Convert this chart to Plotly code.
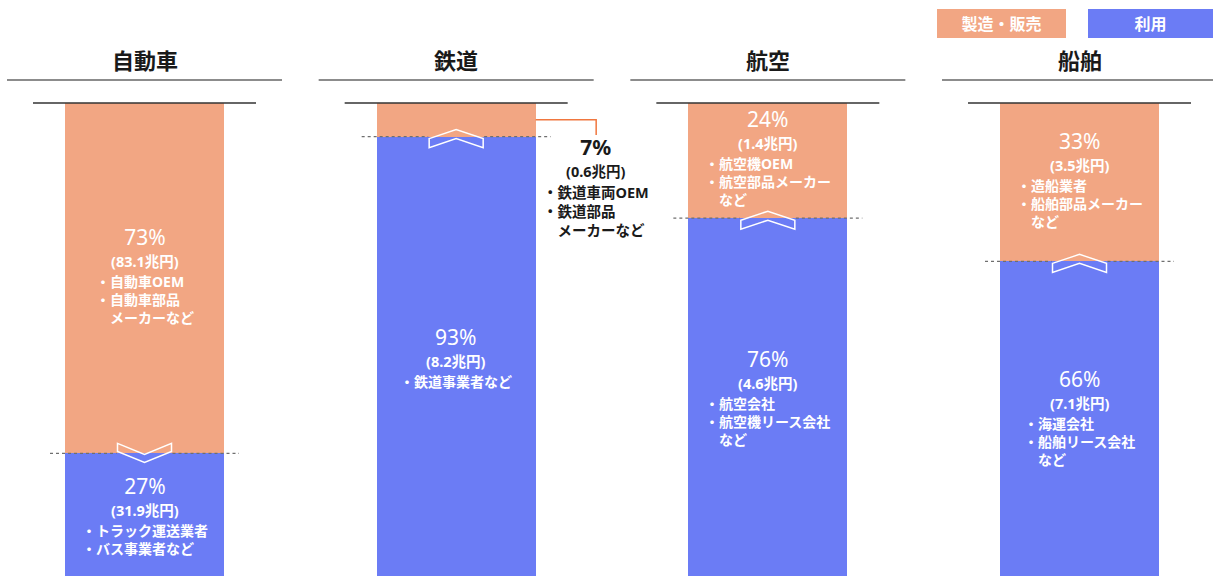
import plotly.graph_objects as go

# ---------------- data ----------------
categories = ["自動車", "鉄道", "航空", "船舶"]
mfg_share = [73, 7, 24, 33]          # 製造・販売 (%)
use_share = [27, 93, 76, 66]         # 利用 (%)
mfg_amount = [83.1, 0.6, 1.4, 3.5]   # 兆円
use_amount = [31.9, 8.2, 4.6, 7.1]   # 兆円
mfg_examples = [
    ["自動車OEM", "自動車部品", "\u3000メーカーなど"],
    ["鉄道車両OEM", "鉄道部品", "\u3000メーカーなど"],
    ["航空機OEM", "航空部品メーカー", "\u3000など"],
    ["造船業者", "船舶部品メーカー", "\u3000など"],
]
use_examples = [
    ["トラック運送業者", "バス事業者など"],
    ["鉄道事業者など"],
    ["航空会社", "航空機リース会社", "\u3000など"],
    ["海運会社", "船舶リース会社", "\u3000など"],
]
legend_labels = ["製造・販売", "利用"]
arrow_dir = ["down", "up", "up", "up"]

# ---------------- style ----------------
W, H = 1213, 576
ORANGE = "#F2A683"
BLUE = "#6B7CF5"
FONT = "'Noto Sans', 'Noto Sans CJK JP', sans-serif"
PXX = 311.67            # px per category unit
X0 = -144.5 / PXX       # x value at left edge
TOP_PX = 103            # px position of value 0
PXY = 4.8               # px per percentage point


def yv(px):
    return (px - TOP_PX) / PXY


def dx(px):
    return px / PXX


BAR_W = 159 / PXX

fig = go.Figure()
fig.add_trace(go.Bar(x=list(range(len(categories))), y=mfg_share, width=BAR_W,
                     marker=dict(color=ORANGE, line=dict(width=0)),
                     name=legend_labels[0], hoverinfo="skip"))
fig.add_trace(go.Bar(x=list(range(len(categories))), y=use_share, width=BAR_W,
                     marker=dict(color=BLUE, line=dict(width=0)),
                     name=legend_labels[1], hoverinfo="skip"))

shapes = []
annotations = []


def bullets(lines):
    return "<br>".join(l if l.startswith("\u3000") else "・" + l for l in lines)


def add_block(xc, yb, pct, amt, lines, color, bold_pct=False, bsize=14):
    """yb = data-y of the boundary between the amount line and the bullet lines."""
    if bold_pct:
        txt = (f"<b><span style='font-size:21px'>{pct}%</span><br>"
               f"<span style='font-size:14.5px'>({amt}兆円)</span></b>")
    else:
        txt = (f"<span style='font-size:21px'>{pct}%</span><br>"
               f"<b><span style='font-size:14.5px'>({amt}兆円)</span></b>")
    annotations.append(dict(x=xc, y=yb, xref="x", yref="y", text=txt,
                            showarrow=False, yshift=0, xanchor="center",
                            yanchor="bottom", borderpad=0, borderwidth=0,
                            font=dict(family=FONT, size=16.6, color=color)))
    annotations.append(dict(x=xc, y=yb, xref="x", yref="y", text="<b>" + bullets(lines) + "</b>",
                            showarrow=False, yshift=-1, xanchor="center", yanchor="top",
                            align="left", borderpad=0, borderwidth=0,
                            font=dict(family=FONT, size=bsize, color=color)))


def boundary(ymid, n):
    # block visually centred on ymid (px offsets converted to data units)
    return ymid + (11 - 9.1 * (n - 1)) / PXY


for i, cat in enumerate(categories):
    # title + lines
    annotations.append(dict(x=i, y=yv(60), xref="x", yref="y", text=f"<b>{cat}</b>",
                            showarrow=False, xanchor="center", yanchor="middle",
                            font=dict(family=FONT, size=22, color="#1a1a1a")))
    shapes.append(dict(type="line", xref="x", yref="y", x0=i - dx(137.5), x1=i + dx(137.5),
                       y0=yv(80), y1=yv(80), line=dict(color="#666666", width=1.5)))
    shapes.append(dict(type="line", xref="x", yref="y", x0=i - dx(111.5), x1=i + dx(111.5),
                       y0=0, y1=0, line=dict(color="#333333", width=1.5)))
    split = mfg_share[i]
    # dashed split line (two segments around the chevron)
    for a, b in [(-94.5, -28), (28, 94.5)]:
        shapes.append(dict(type="line", xref="x", yref="y", x0=i + dx(a), x1=i + dx(b),
                           y0=split, y1=split,
                           line=dict(color="#6f6f6f", width=1.2, dash="3px,3px")))
    # chevron (pixel-sized, y positive = up)
    if arrow_dir[i] == "down":
        path = "M -27,10 L 0,-1 L 27,10 L 27,2 L 0,-9 L -27,2 Z"
    else:
        path = "M -27,-2 L 0,7 L 27,-2 L 27,-11 L 0,-2 L -27,-11 Z"
    shapes.append(dict(type="path", xref="x", yref="y", xsizemode="pixel", ysizemode="pixel",
                       xanchor=i, yanchor=split, path=path, fillcolor="rgba(0,0,0,0)",
                       line=dict(color="white", width=1.5)))
    # labels
    if mfg_share[i] < 10:
        xr = i + BAR_W / 2
        xc = i + dx(140)
        ymid = mfg_share[i] / 2
        shapes.append(dict(type="path", xref="x", yref="y",
                           path=f"M {xr},{ymid} L {xc},{ymid} L {xc},{yv(135)}",
                           line=dict(color="#F0773F", width=1.5)))
        add_block(xc, yv(181), mfg_share[i], mfg_amount[i],
                  mfg_examples[i], "#1a1a1a", bold_pct=True, bsize=14.5)
    else:
        add_block(i, boundary(mfg_share[i] / 2, len(mfg_examples[i])), mfg_share[i],
                  mfg_amount[i], mfg_examples[i], "white")
    add_block(i, boundary(mfg_share[i] + use_share[i] / 2, len(use_examples[i])),
              use_share[i], use_amount[i], use_examples[i], "white")

# legend boxes
for label, color, xc, w in [(legend_labels[0], ORANGE, 1001.5, 129),
                            (legend_labels[1], BLUE, 1150.5, 125)]:
    annotations.append(dict(x=xc / W, y=1 - 23.5 / H, xref="paper", yref="paper",
                            text=f"<b>{label}</b>", showarrow=False, xanchor="center",
                            yanchor="middle", width=w, height=29, bgcolor=color,
                            borderpad=0, borderwidth=0,
                            font=dict(family=FONT, size=16, color="white")))

fig.update_layout(
    width=W, height=H, margin=dict(l=0, r=0, t=0, b=0, pad=0),
    barmode="stack", bargap=0, showlegend=False,
    plot_bgcolor="white", paper_bgcolor="white",
    xaxis=dict(range=[X0, X0 + W / PXX], visible=False, fixedrange=True),
    yaxis=dict(range=[yv(H), yv(0)], visible=False, fixedrange=True),
    shapes=shapes, annotations=annotations,
)
fig.write_html("out.html")
